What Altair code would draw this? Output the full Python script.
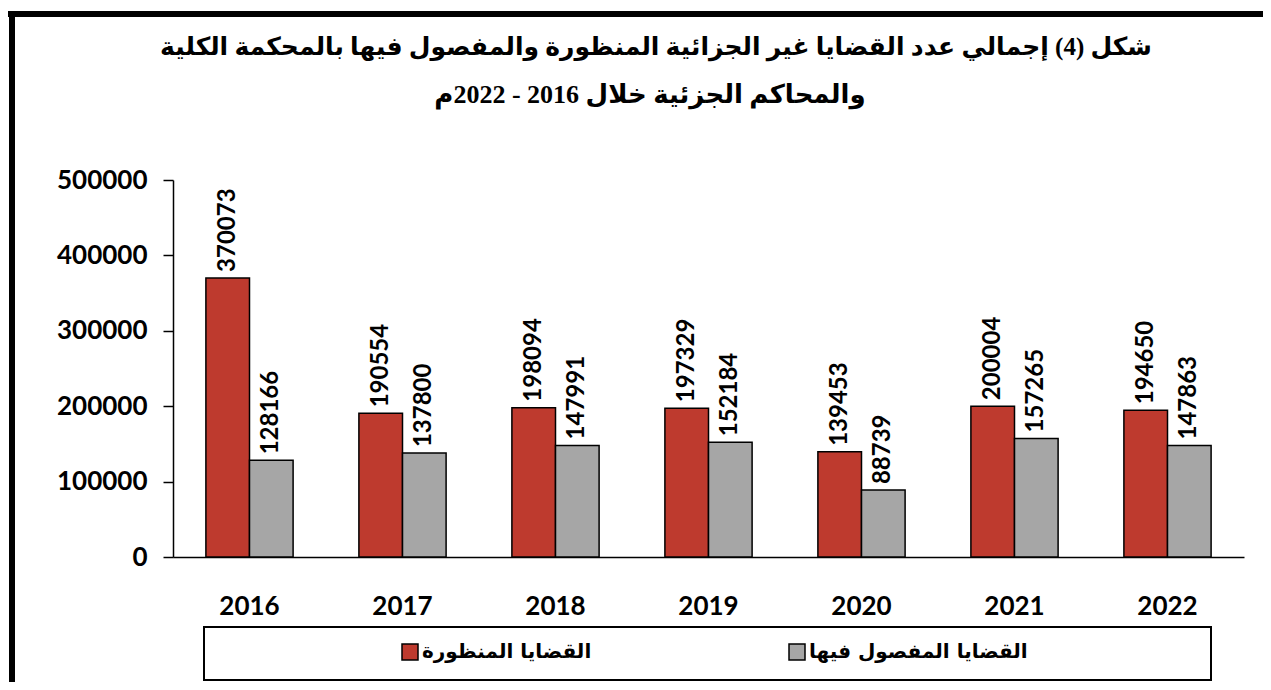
import altair as alt
import pandas as pd

years = ["2016", "2017", "2018", "2019", "2020", "2021", "2022"]
viewed = [370073, 190554, 198094, 197329, 139453, 200004, 194650]
decided = [128166, 137800, 147991, 152184, 88739, 157265, 147863]
series = ["القضايا المنظورة", "القضايا المفصول فيها"]
colors = ["#BE3A2E", "#A6A6A6"]
y_ticks = [0, 100000, 200000, 300000, 400000, 500000]
title_line1 = "شكل (4) إجمالي عدد القضايا غير الجزائية المنظورة والمفصول فيها بالمحكمة الكلية"
title_line2 = "والمحاكم الجزئية خلال 2016 - 2022م"

rows = []
for i, yr in enumerate(years):
    rows.append({"year": yr, "series": series[0], "value": viewed[i]})
    rows.append({"year": yr, "series": series[1], "value": decided[i]})
df = pd.DataFrame(rows)

FONT = "Lato"

x_enc = alt.X(
    "year:N",
    sort=years,
    scale=alt.Scale(paddingInner=0.43, paddingOuter=0.215),
    axis=alt.Axis(
        title=None, labelAngle=0, ticks=False, domainColor="black", domainWidth=1.5,
        labelPadding=36, labelFont=FONT, labelFontSize=26, labelFontWeight="bold",
        labelColor="black",
    ),
)
xo_enc = alt.XOffset("series:N", sort=series, scale=alt.Scale(paddingInner=0, paddingOuter=0))
y_enc = alt.Y(
    "value:Q",
    scale=alt.Scale(domain=[0, 500000], nice=False),
    axis=alt.Axis(
        title=None, values=y_ticks, grid=False, format="d", domainColor="black",
        domainWidth=1.5, tickColor="black", tickWidth=1.5, tickSize=10, labelPadding=16,
        labelFont=FONT, labelFontSize=26, labelFontWeight="bold", labelColor="black",
    ),
)
color_enc = alt.Color(
    "series:N",
    sort=series,
    scale=alt.Scale(domain=series, range=colors),
    legend=alt.Legend(
        title=None, orient="none", direction="horizontal", legendX=227, legendY=462,
        symbolType="square", symbolSize=256, symbolStrokeColor="black", symbolStrokeWidth=1.5,
        symbolOpacity=1, labelOffset=2, columnPadding=194,
        labelFont="DejaVu Sans", labelFontSize=20, labelFontWeight="bold", labelColor="black",
        labelLimit=400, padding=0,
    ),
)

bars = alt.Chart(df).mark_bar(stroke="black", strokeWidth=1.5, opacity=1).encode(
    x=x_enc, xOffset=xo_enc, y=y_enc, color=color_enc
)
labels = alt.Chart(df).mark_text(
    angle=270, align="left", baseline="middle", dx=6, font=FONT, fontSize=24,
    fontWeight="bold", color="black",
).encode(x=x_enc, xOffset=xo_enc, y=y_enc, text=alt.Text("value:Q", format="d"))

frame_df = pd.DataFrame({"k": [0]})
top_border = alt.Chart(frame_df).mark_rule(color="black", strokeWidth=6).encode(
    x=alt.value(-165), x2=alt.value(1090), y=alt.value(-166)
)
left_border = alt.Chart(frame_df).mark_rule(color="black", strokeWidth=6).encode(
    x=alt.value(-161), y=alt.value(-169), y2=alt.value(520)
)
legend_box = alt.Chart(frame_df).mark_rect(
    fill="white", stroke="black", strokeWidth=2
).encode(x=alt.value(31), x2=alt.value(1038), y=alt.value(447), y2=alt.value(500))

title_style = dict(font="Liberation Serif, DejaVu Sans", fontSize=25, fontWeight="bold",
                   color="black", align="center", baseline="middle")
title1 = alt.Chart(frame_df).mark_text(text=title_line1, **title_style).encode(
    x=alt.value(483), y=alt.value(-133)
)
title2 = alt.Chart(frame_df).mark_text(text=title_line2, fontSize=26, **{k: v for k, v in title_style.items() if k != "fontSize"}).encode(
    x=alt.value(477), y=alt.value(-85)
)

chart = alt.layer(
    top_border, left_border, legend_box, title1, title2, bars, labels
).properties(
    width=1071,
    height=377,
    autosize="none",
    background="white",
    padding={"left": 165, "top": 172, "right": 19, "bottom": 125},
).configure_view(stroke=None)

chart.save("out.html", embed_options={"renderer": "svg", "actions": False})
